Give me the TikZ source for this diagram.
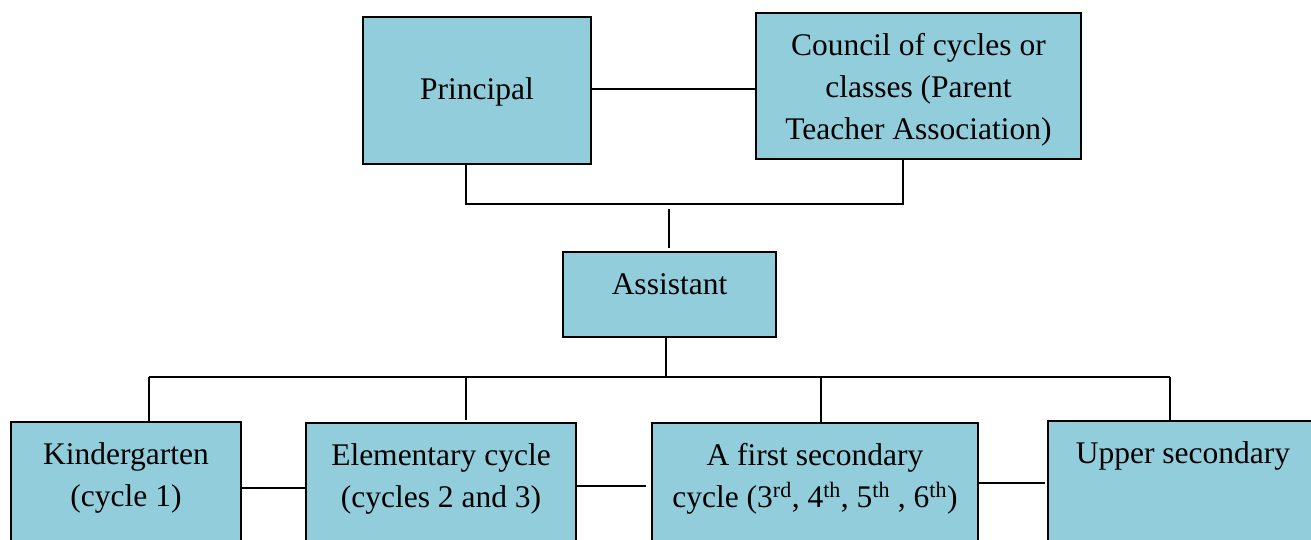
\documentclass[tikz,border=0pt]{standalone}
\usepackage{fontspec}
\setmainfont{Liberation Serif}
\definecolor{boxblue}{HTML}{92CDDC}

\begin{document}
\begin{tikzpicture}[x=1pt,y=-1pt,
				office/.style={rectangle, draw, line width=2pt, fill=boxblue, align=center, font=\fontsize{31.5}{42}\selectfont},
				unit/.style={office, anchor=north, inner ysep=0pt, text height=42pt},
				pair/.style={unit, text height=84pt, text depth=130pt},
				link/.style={line width=1.8pt}]
	\useasboundingbox (0,0) rectangle (1311,540);
	\clip (0,0) rectangle (1311,540);
	\node[unit, minimum width=228pt, text height=83pt, text depth=64pt] (P) at (477,16) {Principal};
	\node[unit, minimum width=325pt, text height=126.5pt, text depth=19.5pt] (C) at (918.5,12) {Council of cycles or\\classes (Parent\\Teacher Association)};
	\node[unit, minimum width=213pt, text depth=43pt] (A) at (669.5,251) {Assistant};
	\node[pair, minimum width=230pt] (K) at (126,421) {Kindergarten\\(cycle 1)};
	\node[pair, minimum width=270pt] (E) at (441,422) {Elementary cycle\\(cycles 2 and 3)};
	\node[pair, minimum width=326pt] (F) at (815,422) {A first secondary\\cycle (3\textsuperscript{rd}, 4\textsuperscript{th}, 5\textsuperscript{th} , 6\textsuperscript{th})};
	\node[unit, minimum width=270pt, text depth=130pt] (U) at (1183,420) {Upper secondary};
	\coordinate (Pdown) at (466,204);
	\coordinate (Cdown) at (903,204);
	\coordinate (Atop) at (669,209);
	\coordinate (Aend) at (669,248);
	\coordinate (bus) at (666,377);
	\coordinate (busL) at (149,377);
	\coordinate (busE) at (466,377);
	\coordinate (busF) at (821,377);
	\coordinate (busR) at (1170,377);
	\draw[link] ([yshift=-73pt]P.north east) -- ([yshift=-77pt]C.north west);
	\draw[link] (P.south -| Pdown) -- (Pdown) -- (Cdown) -- (C.south -| Cdown);
	\draw[link] (Atop) -- (Aend);
	\draw[link] (A.south -| bus) -- (bus);
	\draw[link] (busL) -- (busR);
	\draw[link] (busL) -- (K.north -| busL);
	\draw[link] (busE) -- ([yshift=2pt]E.north -| busE);
	\draw[link] (busF) -- (F.north -| busF);
	\draw[link] (busR) -- (U.north -| busR);
	\draw[link] ([yshift=-67pt]K.north east) -- ([yshift=-66pt]E.north west);
	\draw[link] ([yshift=-64pt]E.north east) -- ([xshift=-5pt,yshift=-64pt]F.north west);
	\draw[link] ([yshift=-61pt]F.north east) -- ([xshift=-2pt,yshift=-63pt]U.north west);
\end{tikzpicture}
\end{document}
